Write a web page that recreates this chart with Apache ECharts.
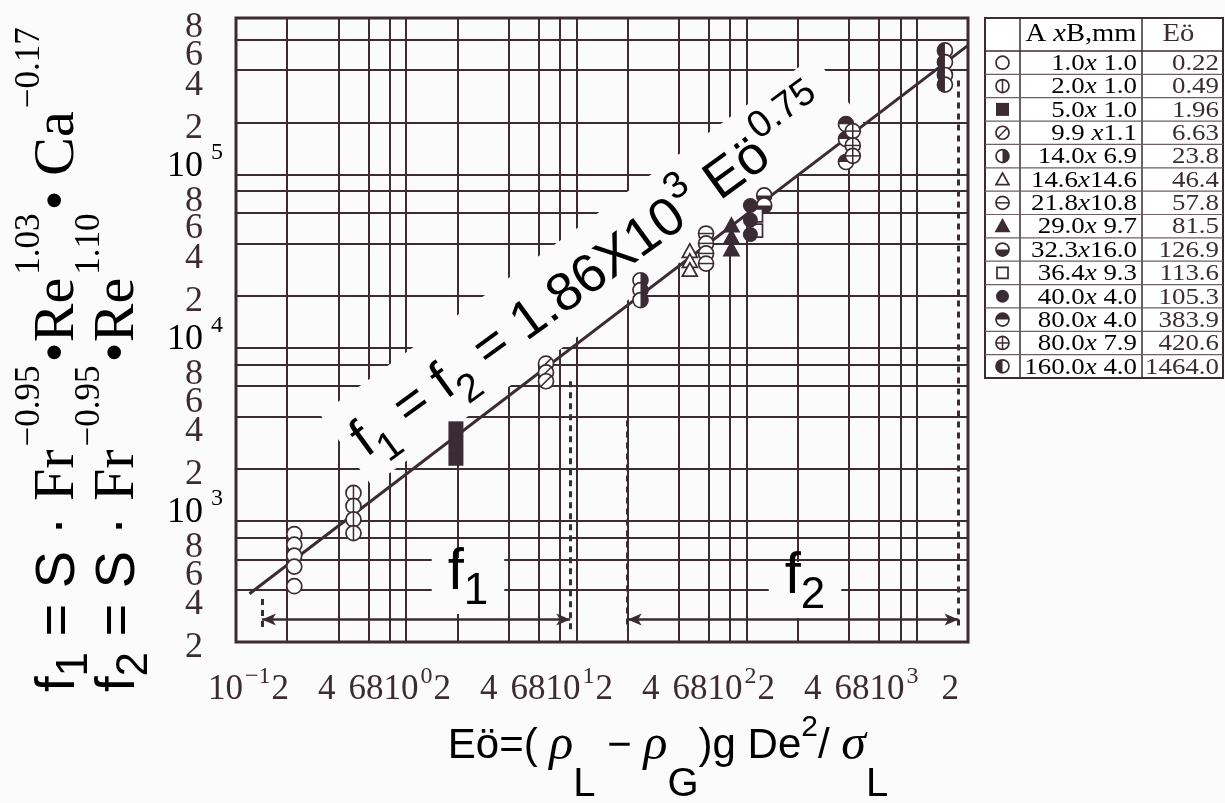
<!DOCTYPE html>
<html><head><meta charset="utf-8">
<script src="https://cdn.jsdelivr.net/npm/echarts@6/dist/echarts.min.js"></script>
<style>html,body{margin:0;padding:0;background:#fcfbfb}#c{width:1225px;height:803px}</style>
</head><body><div id="c"></div><script>
const INK = '#3b2b33';
const SERIF = '"Liberation Serif", "DejaVu Serif", serif';
const SANS = '"Liberation Sans", Arial, sans-serif';

// ---------- data ----------
const eoValues   = [0.22, 0.49, 1.96, 6.63, 23.8, 46.4, 57.8, 81.5, 126.9, 113.6, 105.3, 383.9, 420.6, 1464.0];
const eoLabels   = ['0.22','0.49','1.96','6.63','23.8','46.4','57.8','81.5','126.9','113.6','105.3','383.9','420.6','1464.0'];
const sizesAxB   = ['1.0x 1.0','2.0x 1.0','5.0x 1.0','9.9 x1.1','14.0x 6.9','14.6x14.6','21.8x10.8','29.0x 9.7','32.3x16.0','36.4x 9.3','40.0x 4.0','80.0x 4.0','80.0x 7.9','160.0x 4.0'];
const markerKinds = ['circle','circleV','squareFill','circleSlash','halfRight','triangle','circleH','triangleFill','halfBottom','square','dot','halfTop','circlePlus','halfLeft'];

const f_0_22  = [840, 730, 630, 545, 420];
const f_0_49  = [1450, 1220, 1020, 850];
const f_1_96  = [3400, 2800, 2300];
const f_6_63  = [8100, 7200, 6400];
const f_23_8  = [24500, 21500, 18800];
const f_46_4  = [36000, 31500, 28000];
const f_57_8  = [45600, 40000, 35000, 30600];
const f_81_5  = [50700, 43200, 36800];
const f_126_9 = [75700, 66200];
const f_113_6 = [58000, 47400];
const f_105_3 = [66200, 54600, 45000];
const f_383_9 = [195000, 160000, 118000];
const f_420_6 = [178000, 147000, 128000];
const f_1464  = [520000, 445000, 375000, 330000];
const fGroups = [f_0_22, f_0_49, f_1_96, f_6_63, f_23_8, f_46_4, f_57_8, f_81_5, f_126_9, f_113_6, f_105_3, f_383_9, f_420_6, f_1464];

const fitLineEo = [0.12, 2000];
const fitLineF  = [380, 556000];

const f1RangeEo = [0.142, 9.2];
const f2RangeEo = [20, 1760];
const arrowF = 270;
const dashTopF = [354, 6400, 3800, 349000];
const dashBottomF = 235;

const xGridValues = [0.2,0.4,0.6,0.8,1,2,4,6,8,10,20,40,60,80,100,200,400,600,800,1000];
const yGridValues = [400,600,800,1000,2000,4000,6000,8000,10000,20000,40000,60000,80000,100000,200000,400000,600000];
const xTickLabels = ['10^-1','2','4','6','8','10^0','2','4','6','8','10^1','2','4','6','8','10^2','2','4','6','8','10^3','2'];
const yTickValues = [800000,600000,400000,200000,100000,80000,60000,40000,20000,10000,8000,6000,4000,2000,1000,800,600,400,200];
const yTickLabels = ['8','6','4','2','10^5','8','6','4','2','10^4','8','6','4','2','10^3','8','6','4','2'];

// ---------- marker drawing ----------
function seg(x1, y1, x2, y2, lw) {
  return {type:'line', shape:{x1, y1, x2, y2}, style:{stroke:INK, lineWidth:lw || 1.5}};
}
function markerEls(kind, cx, cy, r) {
  const lw = 1.7, PI = Math.PI;
  const ring = () => ({type:'circle', shape:{cx, cy, r}, style:{fill:'#fff', stroke:INK, lineWidth:lw}});
  const half = (a0, a1) => ({type:'sector', shape:{cx, cy, r0:0, r, startAngle:a0, endAngle:a1, clockwise:true}, style:{fill:INK}});
  const tri = (fill) => ({type:'polygon', shape:{points:[[cx, cy - r], [cx + r, cy + r * 0.8], [cx - r, cy + r * 0.8]]}, style:{fill, stroke:INK, lineWidth:lw}});
  switch (kind) {
    case 'circle': return [ring()];
    case 'circleV': return [ring(), seg(cx, cy - r, cx, cy + r)];
    case 'circleH': return [ring(), seg(cx - r, cy, cx + r, cy)];
    case 'circlePlus': return [ring(), seg(cx, cy - r, cx, cy + r), seg(cx - r, cy, cx + r, cy)];
    case 'circleSlash': { const d = r * 0.72; return [ring(), seg(cx - d, cy + d, cx + d, cy - d)]; }
    case 'squareFill': return [{type:'rect', shape:{x:cx - r, y:cy - r, width:2 * r, height:2 * r}, style:{fill:INK}}];
    case 'square': return [{type:'rect', shape:{x:cx - r + 1, y:cy - r + 1, width:2 * r - 2, height:2 * r - 2}, style:{fill:'#fff', stroke:INK, lineWidth:lw}}];
    case 'triangle': return [tri('#fff')];
    case 'triangleFill': return [tri(INK)];
    case 'dot': return [{type:'circle', shape:{cx, cy, r}, style:{fill:INK}}];
    case 'halfRight': return [ring(), half(-PI / 2, PI / 2)];
    case 'halfLeft': return [ring(), half(PI / 2, 3 * PI / 2)];
    case 'halfBottom': return [ring(), half(0, PI)];
    case 'halfTop': return [ring(), half(PI, 2 * PI)];
  }
  return [ring()];
}

// ---------- chart ----------
const chart = echarts.init(document.getElementById('c'), null, {renderer:'canvas'});

const series = [];
series.push({
  type:'line', name:'gridlines', data:[], z:1, silent:true, animation:false,
  markLine:{z:1, silent:true, symbol:'none', animation:false, label:{show:false},
    lineStyle:{color:INK, width:2, type:'solid', opacity:1}, emphasis:{disabled:true},
    data:[...xGridValues.map(v => ({xAxis:v})), ...yGridValues.map(v => ({yAxis:v}))]}
});
series.push({
  type:'line', name:'ranges', data:[], z:3, silent:true, animation:false,
  markLine:{z:3, silent:true, symbol:'none', animation:false, label:{show:false},
    lineStyle:{color:INK, width:3, type:[6, 5], opacity:1}, emphasis:{disabled:true},
    data:[
      [{coord:[f1RangeEo[0], dashTopF[0]]}, {coord:[f1RangeEo[0], dashBottomF]}],
      [{coord:[f1RangeEo[1], dashTopF[1]]}, {coord:[f1RangeEo[1], dashBottomF]}],
      [{coord:[f2RangeEo[0], dashTopF[2]]}, {coord:[f2RangeEo[0], dashBottomF]}],
      [{coord:[f2RangeEo[1], dashTopF[3]]}, {coord:[f2RangeEo[1], dashBottomF]}]
    ]}
});
series.push({
  type:'line', name:'arrows', data:[], z:3, silent:true, animation:false,
  markLine:{z:3, silent:true, symbol:['arrow', 'arrow'], symbolSize:[9, 14], animation:false, label:{show:false},
    lineStyle:{color:INK, width:2.5, type:'solid', opacity:1}, itemStyle:{color:INK}, emphasis:{disabled:true},
    data:[
      [{coord:[f1RangeEo[0], arrowF]}, {coord:[f1RangeEo[1], arrowF]}],
      [{coord:[f2RangeEo[0], arrowF]}, {coord:[f2RangeEo[1], arrowF]}]
    ]}
});
series.push({
  type:'line', name:'fit', data:fitLineEo.map((x, i) => [x, fitLineF[i]]), symbol:'none',
  lineStyle:{color:INK, width:3}, z:3, silent:true, animation:false
});
fGroups.forEach((vals, i) => {
  const kind = markerKinds[i];
  series.push({
    type:'custom', name:'Eö ' + eoLabels[i], z:4, silent:true, animation:false, clip:false,
    data:vals.map(v => [eoValues[i], v]),
    renderItem:(params, api) => {
      const p = api.coord([api.value(0), api.value(1)]);
      return {type:'group', children:markerEls(kind, p[0], p[1], 7.5)};
    }
  });
});

const option = {
  backgroundColor:'#fcfbfb',
  animation:false,
  grid:{left:236, top:18, width:732, height:624, show:true, borderColor:INK, borderWidth:3, backgroundColor:'transparent', containLabel:false, outerBoundsMode:'none'},
  xAxis:{type:'log', logBase:10, min:0.1, max:2000, axisLine:{show:false}, axisTick:{show:false}, axisLabel:{show:false}, splitLine:{show:false}},
  yAxis:{type:'log', logBase:10, min:200, max:800000, axisLine:{show:false}, axisTick:{show:false}, axisLabel:{show:false}, splitLine:{show:false}},
  series
};
chart.setOption(option);

// ---------- graphic: texts, table ----------
const graphics = [];
const txt = (o) => Object.assign({type:'text', silent:true}, o);

// x tick row (typeset string built from tick labels)
(function () {
  let s = '';
  xTickLabels.forEach((lab, i) => {
    if (lab.startsWith('10^')) {
      s += '{d|10}{s|' + lab.slice(3).replace('-', '−') + '}';
      if (i === xTickLabels.length - 2) s += '{g3| }';
    } else {
      s += '{d|' + lab + '}';
      if (lab === '2' && i < xTickLabels.length - 1) s += '{g1| }';
      if (lab === '4') s += '{g2| }';
    }
  });
  graphics.push(txt({x:208, y:707, z:5, style:{text:s, align:'left', verticalAlign:'bottom', textAlign:'left', textVerticalAlign:'bottom', fill:INK,
    rich:{
      d:{fontSize:35, fontFamily:SERIF, lineHeight:36, verticalAlign:'bottom', color:INK},
      s:{fontSize:24, fontFamily:SERIF, lineHeight:24, padding:[0, 1, 18, 2], verticalAlign:'bottom', color:INK},
      g1:{width:29, fontSize:12, verticalAlign:'bottom'},
      g2:{width:13, fontSize:12, verticalAlign:'bottom'},
      g3:{width:22, fontSize:12, verticalAlign:'bottom'}
    }}}));
})();

// y tick labels
const yOff = {'8':10, '6':16, '4':15, '2':6, '10':-8};
yTickValues.forEach((v, i) => {
  const py = chart.convertToPixel({xAxisIndex:0, yAxisIndex:0}, [1, v])[1];
  const lab = yTickLabels[i];
  if (lab.startsWith('10^')) {
    graphics.push(txt({x:167, y:py + yOff['10'], z:5, style:{text:'{d|10}{s|' + lab.slice(3) + '}', align:'left', verticalAlign:'middle', textAlign:'left', textVerticalAlign:'middle',
      rich:{d:{fontSize:36, fontFamily:SERIF, lineHeight:36, verticalAlign:'bottom', color:INK},
            s:{fontSize:24, fontFamily:SERIF, lineHeight:24, padding:[0, 0, 20, 8], verticalAlign:'bottom', color:INK}}}}));
  } else {
    graphics.push(txt({x:203, y:py + yOff[lab], z:5, style:{text:lab, fontSize:36, fontFamily:SERIF, fill:INK, align:'right', verticalAlign:'middle', textAlign:'right', textVerticalAlign:'middle'}}));
  }
});

// axis titles
const titleRich = (mainSize) => ({
  m:{fontSize:mainSize, fontFamily:SANS, lineHeight:mainSize + 4, padding:[0, 0, 10, 0], verticalAlign:'bottom', color:INK},
  t:{fontSize:mainSize + 2, fontFamily:SERIF, lineHeight:mainSize + 4, padding:[0, 0, 10, 0], verticalAlign:'bottom', color:INK},
  sb:{fontSize:Math.round(mainSize * 0.78), fontFamily:SANS, lineHeight:Math.round(mainSize * 0.8), verticalAlign:'bottom', color:INK},
  sp:{fontSize:Math.round(mainSize * 0.62), fontFamily:SERIF, lineHeight:Math.round(mainSize * 0.64), padding:[0, 3, mainSize - 6, 3], verticalAlign:'bottom', color:INK}
});
graphics.push(txt({x:97, y:692, rotation:Math.PI / 2, z:5, style:{
  text:'{m|f}{sb|1}{m| = S · }{t|Fr}{sp|−0.95}{t|•Re}{sp|1.03}{t|• Ca}{sp|−0.17}',
  align:'left', verticalAlign:'bottom', textAlign:'left', textVerticalAlign:'bottom', rich:titleRich(56)}}));
graphics.push(txt({x:157, y:692, rotation:Math.PI / 2, z:5, style:{
  text:'{m|f}{sb|2}{m| = S · }{t|Fr}{sp|−0.95}{t|•Re}{sp|1.10}',
  align:'left', verticalAlign:'bottom', textAlign:'left', textVerticalAlign:'bottom', rich:titleRich(56)}}));

graphics.push(txt({x:668, y:805, z:5, style:{
  text:'{m|Eö=( }{g|ρ}{sb|L}{m| − }{g|ρ}{sb|G}{m|)g De}{sp|2}{m|/ }{g|σ}{sb|L}',
  align:'center', verticalAlign:'bottom', textAlign:'center', textVerticalAlign:'bottom',
  rich:{
    m:{fontSize:42, fontFamily:SANS, lineHeight:44, padding:[0, 0, 38, 0], verticalAlign:'bottom', color:INK},
    g:{fontSize:50, fontFamily:SERIF, fontStyle:'italic', lineHeight:44, padding:[0, 0, 34, 0], verticalAlign:'bottom', color:INK},
    sb:{fontSize:40, fontFamily:SANS, lineHeight:44, verticalAlign:'bottom', color:INK},
    sp:{fontSize:30, fontFamily:SANS, lineHeight:30, padding:[0, 0, 62, 0], verticalAlign:'bottom', color:INK}
  }}}));

// fitted-law formula along the line
graphics.push(txt({x:372, y:486, rotation:36 * Math.PI / 180, z:2, style:{
  text:'{m|f}{sb|1}{m| = f}{sb|2}{m| = 1.86X10}{sp|3}{m| Eö}{sp|0.75}',
  align:'left', verticalAlign:'bottom', textAlign:'left', textVerticalAlign:'bottom',
  backgroundColor:'#fcfbfb', padding:[32, 20, 0, 12],
  rich:{
    m:{fontSize:54, fontFamily:SANS, lineHeight:56, padding:[0, 0, 14, 0], verticalAlign:'bottom', color:INK},
    sb:{fontSize:40, fontFamily:SANS, lineHeight:40, verticalAlign:'bottom', color:INK},
    sp:{fontSize:38, fontFamily:SANS, lineHeight:38, padding:[0, 1, 44, 1], verticalAlign:'bottom', color:INK}
  }}}));

// f1 / f2 range labels
const rangeRich = {
  f:{fontSize:58, fontFamily:SANS, lineHeight:56, padding:[0, 0, 12, 0], verticalAlign:'bottom', color:INK},
  s:{fontSize:44, fontFamily:SANS, lineHeight:44, verticalAlign:'bottom', color:INK}
};
graphics.push(txt({x:468, y:614, z:2, style:{text:'{f|f}{s|1}', align:'center', verticalAlign:'bottom', textAlign:'center', textVerticalAlign:'bottom', backgroundColor:'#fcfbfb', padding:[0, 16, 0, 16], rich:rangeRich}}));
graphics.push(txt({x:805, y:618, z:2, style:{text:'{f|f}{s|2}', align:'center', verticalAlign:'bottom', textAlign:'center', textVerticalAlign:'bottom', backgroundColor:'#fcfbfb', padding:[0, 16, 0, 16], rich:rangeRich}}));

// ---------- legend table ----------
const T = {x:985, y:18, w:238, h:360, c1:1020, c2:1142, head:33};
const rowH = (T.h - T.head) / sizesAxB.length;
const tableEls = [];
tableEls.push({type:'rect', shape:{x:T.x, y:T.y, width:T.w, height:T.h}, style:{fill:'#fff', stroke:INK, lineWidth:2}});
tableEls.push({type:'line', shape:{x1:T.c1, y1:T.y, x2:T.c1, y2:T.y + T.h}, style:{stroke:INK, lineWidth:1.5}});
tableEls.push({type:'line', shape:{x1:T.c2, y1:T.y, x2:T.c2, y2:T.y + T.h}, style:{stroke:INK, lineWidth:1.5}});
tableEls.push({type:'line', shape:{x1:T.x, y1:T.y + T.head, x2:T.x + T.w, y2:T.y + T.head}, style:{stroke:INK, lineWidth:1.5}});
for (let i = 1; i < sizesAxB.length; i++) {
  const yy = T.y + T.head + i * rowH;
  tableEls.push({type:'line', shape:{x1:T.x, y1:yy, x2:T.x + T.w, y2:yy}, style:{stroke:'#6e5e66', lineWidth:1.2}});
}
const tRich = {
  n:{fontSize:24, fontFamily:SERIF, color:INK},
  i:{fontSize:24, fontFamily:SERIF, fontStyle:'italic', color:INK}
};
tableEls.push({type:'text', x:(T.c1 + T.c2) / 2, y:T.y + T.head / 2, scaleX:1.1, style:{text:'{n|A }{i|x}{n|B,mm}', align:'center', verticalAlign:'middle', textAlign:'center', textVerticalAlign:'middle',
  rich:{n:{fontSize:26, fontFamily:SERIF, color:INK}, i:{fontSize:26, fontFamily:SERIF, fontStyle:'italic', color:INK}}}});
tableEls.push({type:'text', x:(T.c2 + T.x + T.w) / 2 - 4, y:T.y + T.head / 2, scaleX:1.1, style:{text:'Eö', fontSize:26, fontFamily:SERIF, fill:INK, align:'center', verticalAlign:'middle', textAlign:'center', textVerticalAlign:'middle'}});
sizesAxB.forEach((s, i) => {
  const cy = T.y + T.head + (i + 0.5) * rowH;
  const parts = s.split('x');
  tableEls.push({type:'text', x:T.c2 - 5, y:cy + 1, scaleX:1.12, style:{text:'{n|' + parts[0] + '}{i|x}{n|' + parts[1] + '}', align:'right', verticalAlign:'middle', textAlign:'right', textVerticalAlign:'middle', rich:tRich}});
  tableEls.push({type:'text', x:T.x + T.w - 4, y:cy + 1, scaleX:1.12, style:{text:eoLabels[i], fontSize:24, fontFamily:SERIF, fill:INK, align:'right', verticalAlign:'middle', textAlign:'right', textVerticalAlign:'middle'}});
  markerEls(markerKinds[i], (T.x + T.c1) / 2, cy, 6.5).forEach(e => tableEls.push(e));
});
graphics.push({type:'group', z:5, silent:true, children:tableEls});

chart.setOption({graphic:graphics});
</script></body></html>
